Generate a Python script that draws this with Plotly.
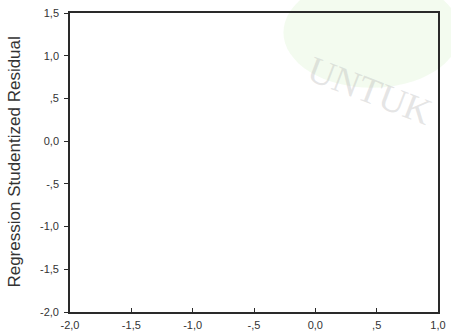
import plotly.graph_objects as go

# Standardized predicted value vs. studentized residual (no cases plotted)
predicted = []
residual = []

x_ticks = [-2.0, -1.5, -1.0, -0.5, 0.0, 0.5, 1.0]
x_labels = ["-2,0", "-1,5", "-1,0", "-,5", "0,0", ",5", "1,0"]
y_ticks = [-2.0, -1.5, -1.0, -0.5, 0.0, 0.5, 1.0, 1.5]
y_labels = ["-2,0", "-1,5", "-1,0", "-,5", "0,0", ",5", "1,0", "1,5"]

FONT = "Liberation Sans, Arial, sans-serif"

fig = go.Figure()
fig.add_trace(go.Scatter(x=predicted, y=residual, mode="markers",
                         marker=dict(color="black", size=5), showlegend=False))

axis_common = dict(showgrid=False, zeroline=False, showline=True,
                   linecolor="#2a2a2a", linewidth=1.6, mirror=True,
                   ticklen=4, tickcolor="#2a2a2a", tickwidth=1,
                   automargin=False,
                   tickfont=dict(family=FONT, size=11, color="#333333"))

fig.update_xaxes(range=[-2.0, 1.0], tickmode="array", tickvals=x_ticks,
                 ticktext=x_labels, ticks="inside", ticklabelstandoff=2,
                 **axis_common)
fig.update_yaxes(range=[-2.0, 1.5], tickmode="array", tickvals=y_ticks,
                 ticktext=y_labels, ticks="outside", ticklabelstandoff=3,
                 **axis_common)

fig.add_annotation(text="Regression Studentized Residual", xref="paper", yref="paper",
                   x=-0.152, y=0.5, textangle=-90, showarrow=False,
                   xanchor="center", yanchor="middle",
                   font=dict(family=FONT, size=17, color="#333333"))

# faint paper watermark behind the plot area
fig.add_shape(type="circle", xref="paper", yref="paper",
              x0=0.58, x1=1.06, y0=0.75, y1=1.12, layer="below",
              fillcolor="rgba(225,244,215,0.40)", line=dict(width=0))
fig.add_annotation(text="UNTUK", xref="paper", yref="paper",
                   x=0.815, y=0.74, textangle=21, showarrow=False,
                   xanchor="center", yanchor="middle",
                   font=dict(family="Liberation Serif, serif", size=37,
                             color="rgba(180,180,180,0.35)"))

fig.update_layout(width=451, height=335,
                  margin=dict(l=70, r=13, t=13, b=23),
                  paper_bgcolor="white", plot_bgcolor="rgba(0,0,0,0)")

fig.write_html("out.html")
